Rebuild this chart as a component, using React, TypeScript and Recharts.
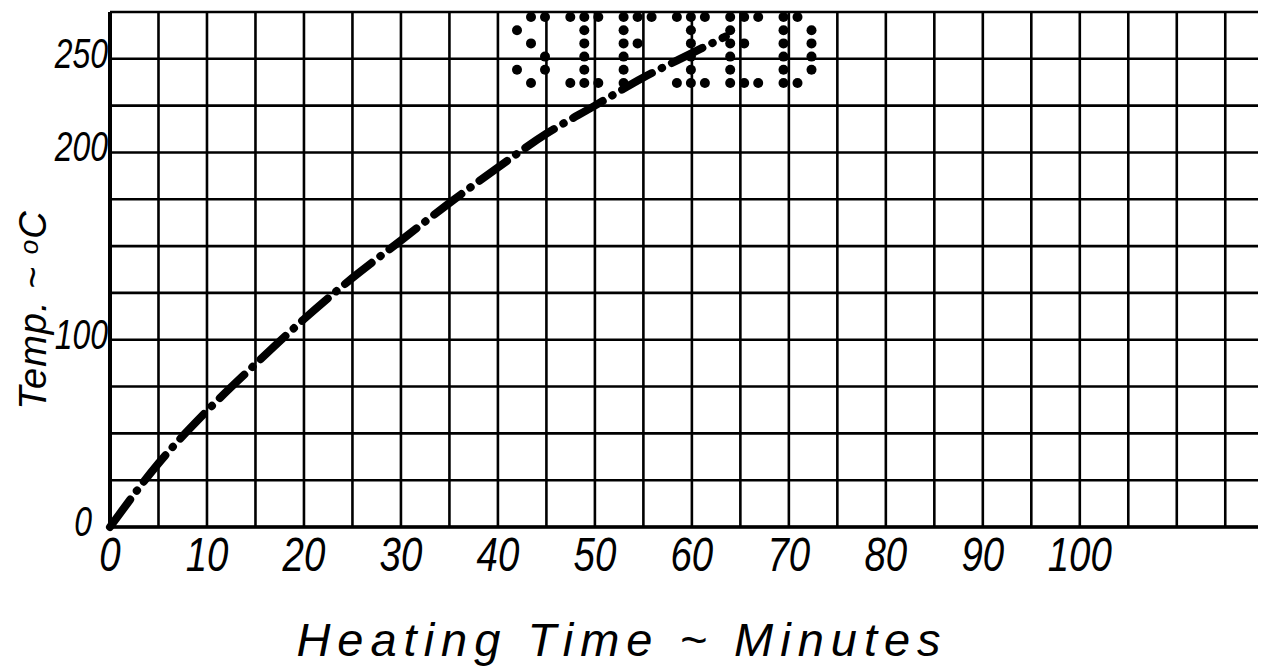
import React from "react";
import { LineChart, Line, XAxis, YAxis, CartesianGrid, Customized, Label } from "recharts";

const times = [0, 5, 10, 15, 20, 25, 30, 35, 40, 45, 50, 55, 60, 63.5];
const temps = [0, 34, 62, 87, 111, 133, 153, 173, 192, 210, 225, 240, 253, 262];

const xGridTicks = [0, 5, 10, 15, 20, 25, 30, 35, 40, 45, 50, 55, 60, 65, 70, 75, 80, 85, 90, 95, 100, 105, 110, 115];
const xTickLabels = ["0", "10", "20", "30", "40", "50", "60", "70", "80", "90", "100"];
const yGridTicks = [0, 25, 50, 75, 100, 125, 150, 175, 200, 225, 250, 275];
const yTickLabels = ["0", "100", "200", "250"];

const xTitle = "Heating Time ~ Minutes";
const yTitle = "Temp. ~ ";

// dot-matrix stamp letters ("SIFIED"), 3 columns x 6 rows each
const stampLetters = [
  [".XX", "X..", ".X.", "..X", "X.X", ".X."],
  ["XXX", ".X.", ".X.", ".X.", ".X.", "XXX"],
  ["XXX", "X..", "XX.", "X..", "X..", "X.."],
  ["XXX", ".X.", ".X.", ".X.", ".X.", "XXX"],
  ["XXX", "X..", "XX.", "X..", "X..", "XXX"],
  ["XX.", "X.X", "X.X", "X.X", "X.X", "XX."],
];

const data = times.map((t, i) => ({ t, temp: temps[i] }));

const FONT = '"Liberation Sans", Arimo, sans-serif';

const XTick = (props: any) => {
  const { x, y, payload } = props;
  const label = String(payload.value);
  if (!xTickLabels.includes(label)) return null;
  return (
    <g transform={`translate(${x} ${y + 36}) scale(0.8 1)`}>
      <text x={0} y={0} textAnchor="middle" fontFamily={FONT} fontStyle="italic" fontSize={48} fill="#000">
        {label}
      </text>
    </g>
  );
};

const YTick = (props: any) => {
  const { x, y, payload } = props;
  const label = String(payload.value);
  if (!yTickLabels.includes(label)) return null;
  const dx = label === "0" ? -10 : 6;
  return (
    <g transform={`translate(${x + dx} ${y + 9}) scale(0.76 1)`}>
      <text x={0} y={0} textAnchor="end" fontFamily={FONT} fontStyle="italic" fontSize={42} fill="#000">
        {label}
      </text>
    </g>
  );
};

const Stamp = () => {
  const x0 = 509;
  const y0 = 9;
  const pitch = 53.3;
  const colStep = 14;
  const rowStep = 13.2;
  const dots: React.ReactNode[] = [];
  stampLetters.forEach((rows, li) => {
    rows.forEach((row, ri) => {
      row.split("").forEach((c, ci) => {
        if (c === "X") {
          dots.push(
            <circle key={`${li}-${ri}-${ci}`} cx={x0 + li * pitch + ci * colStep} cy={y0 + ri * rowStep} r={5} fill="#000" />
          );
        }
      });
    });
  });
  return <g>{dots}</g>;
};

export default function App() {
  return (
    <LineChart width={1258} height={661} data={data} margin={{ top: 4, right: 0, left: 0, bottom: 82 }}>
      <CartesianGrid stroke="#000" strokeWidth={2.6} fill="none" />
      <XAxis
        dataKey="t"
        type="number"
        domain={[0, 119.2]}
        ticks={xGridTicks}
        interval={0}
        tick={<XTick />}
        tickLine={false}
        axisLine={{ stroke: "#000", strokeWidth: 3.5 }}
        height={60}
      >
        <Label
          content={(p: any) => {
            const vb = p.viewBox || {};
            return (
              <text
                x={vb.x + vb.width / 2 - 66}
                y={vb.y + vb.height + 69}
                textAnchor="middle"
                fontFamily={FONT}
                fontStyle="italic"
                fontSize={47}
                letterSpacing={7}
                fill="#000"
              >
                {xTitle}
              </text>
            );
          }}
        />
      </XAxis>
      <YAxis
        type="number"
        domain={[0, 275]}
        ticks={yGridTicks}
        interval={0}
        tick={<YTick />}
        tickLine={false}
        axisLine={{ stroke: "#000", strokeWidth: 4 }}
        width={102}
      >
        <Label
          content={() => (
            <text
              x={0}
              y={0}
              transform="translate(38 302) rotate(-90)"
              textAnchor="middle"
              fontFamily={FONT}
              fontStyle="italic"
              fontSize={38}
              letterSpacing={1}
              fill="#000"
            >
              {yTitle}
              <tspan fontSize={26} dy={-8}>o</tspan>
              <tspan dy={8}>C</tspan>
            </text>
          )}
        />
      </YAxis>
      <Customized component={Stamp} />
      <Line
        dataKey="temp"
        type="monotone"
        stroke="#000"
        strokeWidth={8}
        strokeDasharray="34 11 0.5 11"
        strokeLinecap="round"
        dot={false}
        isAnimationActive={false}
      />
    </LineChart>
  );
}
